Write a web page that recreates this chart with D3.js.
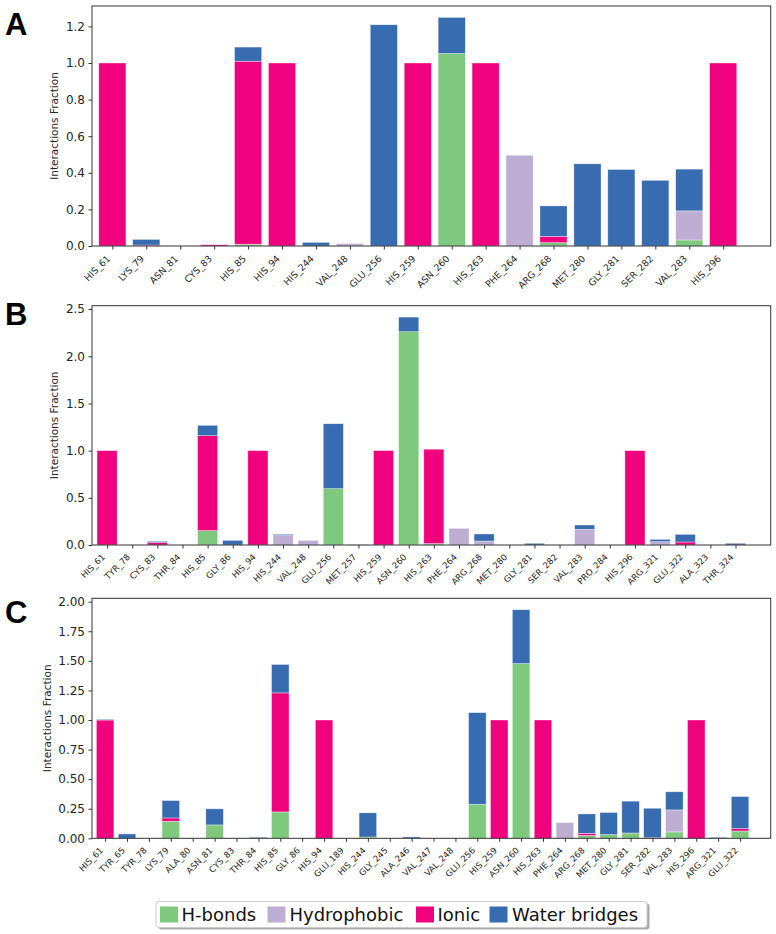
<!DOCTYPE html>
<html><head><meta charset="utf-8">
<script src="https://cdn.jsdelivr.net/npm/d3@7"></script>
<style>body{margin:0;background:#fff}svg{display:block}</style>
</head><body>
<svg id="chart" width="776" height="934"></svg>
<script>
const seriesNames = ["H-bonds","Hydrophobic","Ionic","Water bridges"];
const seriesColors = ["#7fc97f","#beaed4","#f0027f","#386cb0"];

const catsA = ["HIS_61","LYS_79","ASN_81","CYS_83","HIS_85","HIS_94","HIS_244","VAL_248","GLU_256","HIS_259","ASN_260","HIS_263","PHE_264","ARG_268","MET_280","GLY_281","SER_282","VAL_283","HIS_296"];
const hbondA = [0,0,0,0,0.01,0,0,0,0,0,1.052,0,0,0.018,0,0,0,0.033,0];
const hydroA = [0,0,0,0,0,0,0,0.013,0,0,0,0,0.496,0,0,0,0,0.159,0];
const ionicA = [1.0,0.005,0,0.007,1.0,1.0,0,0,0,1.0,0,1.0,0,0.035,0,0,0,0,1.0];
const waterA = [0,0.031,0,0,0.077,0,0.02,0,1.209,0,0.197,0,0,0.166,0.449,0.418,0.359,0.228,0];
const ticksA = [0,0.2,0.4,0.6,0.8,1.0,1.2];

const catsB = ["HIS_61","TYR_78","CYS_83","THR_84","HIS_85","GLY_86","HIS_94","HIS_244","VAL_248","GLU_256","MET_257","HIS_259","ASN_260","HIS_263","PHE_264","ARG_268","MET_280","GLY_281","SER_282","VAL_283","PRO_284","HIS_296","ARG_321","GLU_322","ALA_323","THR_324"];
const hbondB = [0,0,0,0,0.152,0,0,0,0,0.597,0,0,2.26,0.015,0,0,0,0,0,0,0,0,0,0,0,0];
const hydroB = [0,0,0,0,0,0,0,0.1,0.049,0,0.004,0,0,0,0.177,0.042,0,0,0,0.166,0,0,0.035,0,0,0];
const ionicB = [1.0,0,0.025,0,1.006,0,1.0,0,0,0,0,1.0,0,1.0,0,0,0,0,0,0,0,1.0,0,0.032,0,0];
const waterB = [0,0,0.014,0,0.11,0.049,0,0.013,0,0.688,0,0,0.155,0,0,0.075,0,0.018,0,0.046,0,0,0.025,0.081,0,0.018];
const ticksB = [0,0.5,1.0,1.5,2.0,2.5];

const catsC = ["HIS_61","TYR_65","TYR_78","LYS_79","ALA_80","ASN_81","CYS_83","THR_84","HIS_85","GLY_86","HIS_94","GLU_189","HIS_244","GLY_245","ALA_246","VAL_247","VAL_248","GLU_256","HIS_259","ASN_260","HIS_263","PHE_264","ARG_268","MET_280","GLY_281","SER_282","VAL_283","HIS_296","ARG_321","GLU_322"];
const hbondC = [0,0,0,0.144,0,0.113,0,0,0.223,0,0,0,0.011,0,0,0,0,0.288,0,1.477,0,0,0.023,0.031,0.045,0,0.054,0,0,0.062];
const hydroC = [0,0,0,0,0,0,0,0,0,0,0,0,0,0,0,0,0,0,0,0,0,0.133,0,0,0,0,0.186,0,0,0];
const ionicC = [1.0,0,0,0.028,0,0,0,0,1.006,0,1.0,0,0,0,0,0,0,0,1.0,0,1.0,0,0.019,0,0,0.005,0,1.0,0,0.02];
const waterC = [0.006,0.037,0,0.147,0,0.136,0,0.008,0.24,0,0,0,0.204,0,0.011,0,0,0.774,0,0.455,0,0,0.164,0.187,0.269,0.249,0.153,0,0.008,0.271];
const ticksC = [0,0.25,0.5,0.75,1.0,1.25,1.5,1.75,2.0];

const panels = [
  {letter:"A", cats:catsA, series:[hbondA,hydroA,ionicA,waterA], ticks:ticksA, fmt:".1f", top:6, bottom:246, labelFont:9.3, letterY:35},
  {letter:"B", cats:catsB, series:[hbondB,hydroB,ionicB,waterB], ticks:ticksB, fmt:".1f", top:305.7, bottom:545, labelFont:8.6, letterY:325},
  {letter:"C", cats:catsC, series:[hbondC,hydroC,ionicC,waterC], ticks:ticksC, fmt:".2f", top:598.3, bottom:838.3, labelFont:8.6, letterY:623}
];

const svg = d3.select("#chart");
const left = 92, right = 770.7;
const textColor = "#262626";

panels.forEach(p => {
  const n = p.cats.length;
  const x = d3.scaleLinear().domain([-0.6, n + 0.4]).range([left, right]);
  const totals = p.cats.map((c,i) => d3.sum(p.series, s => s[i]));
  const y = d3.scaleLinear().domain([0, d3.max(totals) * 1.05]).range([p.bottom, p.top]);
  const g = svg.append("g");
  const step = x(1) - x(0);
  const bw = 0.8 * step;

  const rows = p.cats.map((c,i) => {
    const o = {cat:c, i:i};
    seriesNames.forEach((s,k) => o[s] = p.series[k][i]);
    return o;
  });
  const stack = d3.stack().keys(seriesNames)(rows);
  stack.forEach((layer,k) => {
    g.append("g").selectAll("rect").data(layer.filter(d => d[1] - d[0] > 0)).join("rect")
      .attr("x", d => x(d.data.i) - bw/2)
      .attr("width", bw)
      .attr("y", d => y(d[1]))
      .attr("height", d => Math.max(0.8, y(d[0]) - y(d[1])))
      .attr("fill", seriesColors[k])
      .attr("stroke", "#ffffff")
      .attr("stroke-opacity", 0.6)
      .attr("stroke-width", 0.6);
  });

  g.append("rect").attr("x", left).attr("y", p.top).attr("width", right-left).attr("height", p.bottom-p.top)
    .attr("fill","none").attr("stroke","#333").attr("stroke-width",1);

  const ya = d3.axisLeft(y).tickValues(p.ticks).tickFormat(d3.format(p.fmt)).tickSize(3.5).tickPadding(3.5);
  const yg = g.append("g").attr("transform", `translate(${left},0)`).call(ya);
  yg.select(".domain").remove();
  yg.selectAll("line").attr("stroke","#333");
  yg.selectAll("text").attr("font-family","DejaVu Sans").attr("font-size",12).attr("fill",textColor);

  const xa = d3.axisBottom(x).tickValues(d3.range(n)).tickFormat("").tickSize(3.5);
  const xg = g.append("g").attr("transform", `translate(0,${p.bottom})`).call(xa);
  xg.select(".domain").remove();
  xg.selectAll("line").attr("stroke","#333");
  xg.selectAll("text").remove();

  const off = 7 + 0.707 * 1.17 * p.labelFont - 1.5;
  g.append("g").selectAll("text").data(p.cats).join("text")
    .attr("transform", (d,i) => `translate(${x(i) - 1.5},${p.bottom + off}) rotate(-45)`)
    .attr("text-anchor","end")
    .attr("font-family","DejaVu Sans").attr("font-size",p.labelFont).attr("fill",textColor)
    .text(d => d);

  const yl = p.letter === "C" ? 47 : 54;
  g.append("text").attr("transform", `translate(${yl},${(p.top+p.bottom)/2}) rotate(-90)`)
    .attr("text-anchor","middle").attr("dominant-baseline","central")
    .attr("font-family","DejaVu Sans").attr("font-size",10.5).attr("fill",textColor)
    .text("Interactions Fraction");

  svg.append("text").attr("x", 5).attr("y", p.letterY)
    .attr("font-family","Liberation Sans, Arial, sans-serif").attr("font-weight","bold")
    .attr("font-size",31).attr("fill","#000").text(p.letter);
});

const lg = svg.append("g");
lg.append("rect").attr("x",158.5).attr("y",903.5).attr("width",491).attr("height",26).attr("rx",3)
  .attr("fill","#aaa");
lg.append("rect").attr("x",156).attr("y",901.5).attr("width",491).attr("height",26).attr("rx",3)
  .attr("fill","#fff").attr("stroke","#ccc").attr("stroke-width",1);
const legendX = [
  {sx:160, tx:181.5},
  {sx:267.5, tx:289.5},
  {sx:416, tx:437.5},
  {sx:489.5, tx:512}
];
seriesNames.forEach((s,k) => {
  lg.append("rect").attr("x",legendX[k].sx).attr("y",906.5).attr("width",18).attr("height",16)
    .attr("fill",seriesColors[k]);
  lg.append("text").attr("x",legendX[k].tx).attr("y",921)
    .attr("font-family","DejaVu Sans").attr("font-size",18).attr("fill","#111").text(s);
});
</script>
</body></html>
